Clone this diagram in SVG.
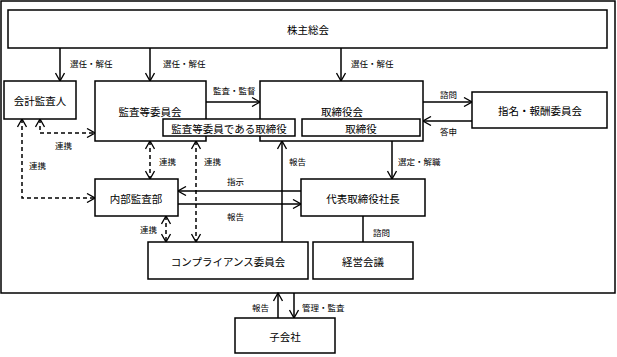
<svg xmlns="http://www.w3.org/2000/svg" width="617" height="357" viewBox="0 0 617 357">
<defs>
<marker id="ah" viewBox="0 0 10 10" refX="9" refY="5" markerWidth="10" markerHeight="10" markerUnits="userSpaceOnUse" orient="auto-start-reverse">
<path d="M1,0.5 L9,5 L1,9.5" fill="none" stroke="#000" stroke-width="1.3"/>
</marker>
<style>
.b{fill:#fff;stroke:#000;stroke-width:1.5}
.t{font-family:"Noto Sans CJK JP","Noto Sans CJK SC",sans-serif;font-size:10.5px;text-anchor:middle;dominant-baseline:central;fill:#000}
.s{font-family:"Noto Sans CJK JP","Noto Sans CJK SC",sans-serif;font-size:8.5px;dominant-baseline:central;fill:#000}
.l{fill:none;stroke:#000;stroke-width:1.5}
.d{fill:none;stroke:#000;stroke-width:1.5;stroke-dasharray:4,3}
</style>
</defs>
<rect x="1" y="1" width="614" height="292" fill="#fff" stroke="#000" stroke-width="1.5"/>
<g id="connectors">
<path class="l" d="M60,48 V81" marker-end="url(#ah)"/>
<path class="l" d="M150,48 V81" marker-end="url(#ah)"/>
<path class="l" d="M341,48 V81" marker-end="url(#ah)"/>
<path class="l" d="M206,102 H260" marker-end="url(#ah)"/>
<path class="l" d="M423,102 H472" marker-end="url(#ah)"/>
<path class="l" d="M472,121 H423" marker-end="url(#ah)"/>
<path class="d" d="M40,119 V133 H95" marker-start="url(#ah)" marker-end="url(#ah)"/>
<path class="d" d="M22,119 V198 H95" marker-start="url(#ah)" marker-end="url(#ah)"/>
<path class="d" d="M150,141 V179" marker-start="url(#ah)" marker-end="url(#ah)"/>
<path class="d" d="M196,141 V242" marker-start="url(#ah)" marker-end="url(#ah)"/>
<path class="d" d="M166,216 V242" marker-start="url(#ah)" marker-end="url(#ah)"/>
<path class="l" d="M301,191 H178" marker-end="url(#ah)"/>
<path class="l" d="M178,204 H301" marker-end="url(#ah)"/>
<path class="l" d="M282,242 V141" marker-end="url(#ah)"/>
<path class="l" d="M392,141 V179" marker-end="url(#ah)"/>
<path class="l" d="M363,216 V242"/>
<path class="l" d="M278,318 V293" marker-end="url(#ah)"/>
<path class="l" d="M294,293 V318" marker-end="url(#ah)"/>
<text class="s" x="70" y="63">選任・解任</text>
<text class="s" x="163" y="63">選任・解任</text>
<text class="s" x="351" y="63">選任・解任</text>
<text class="s" x="213" y="90">監査・監督</text>
<text class="s" x="440" y="94">諮問</text>
<text class="s" x="440" y="131">答申</text>
<text class="s" x="55" y="145">連携</text>
<text class="s" x="29" y="165">連携</text>
<text class="s" x="159" y="161">連携</text>
<text class="s" x="204" y="161">連携</text>
<text class="s" x="140" y="229">連携</text>
<text class="s" x="227" y="181">指示</text>
<text class="s" x="227" y="216">報告</text>
<text class="s" x="289" y="161">報告</text>
<text class="s" x="398" y="161">選定・解職</text>
<text class="s" x="373" y="232">諮問</text>
<text class="s" x="252" y="307">報告</text>
<text class="s" x="302" y="307">管理・監査</text>
</g>
<g id="shareholders"><rect class="b" x="8" y="10" width="599" height="38"/><text class="t" x="308" y="29">株主総会</text></g>
<g id="auditor"><rect class="b" x="4" y="81" width="72" height="38"/><text class="t" x="40" y="100">会計監査人</text></g>
<g id="audit-committee"><rect class="b" x="95" y="81" width="111" height="60"/><text class="t" x="150" y="111">監査等委員会</text></g>
<g id="board"><rect class="b" x="260" y="81" width="163" height="60"/><text class="t" x="342" y="111">取締役会</text></g>
<g id="audit-directors"><rect class="b" x="163" y="119" width="132" height="17"/><text class="t" x="229" y="128">監査等委員である取締役</text></g>
<g id="directors"><rect class="b" x="302" y="119" width="118" height="17"/><text class="t" x="361" y="128">取締役</text></g>
<g id="nomination"><rect class="b" x="472" y="92" width="135" height="36"/><text class="t" x="540" y="110">指名・報酬委員会</text></g>
<g id="internal-audit"><rect class="b" x="95" y="179" width="83" height="37"/><text class="t" x="136" y="198">内部監査部</text></g>
<g id="president"><rect class="b" x="301" y="179" width="124" height="37"/><text class="t" x="363" y="198">代表取締役社長</text></g>
<g id="compliance"><rect class="b" x="148" y="242" width="160" height="37"/><text class="t" x="228" y="261">コンプライアンス委員会</text></g>
<g id="management"><rect class="b" x="313" y="242" width="100" height="37"/><text class="t" x="363" y="261">経営会議</text></g>
<g id="subsidiary"><rect class="b" x="235" y="318" width="100" height="35"/><text class="t" x="285" y="336">子会社</text></g>
</svg>
